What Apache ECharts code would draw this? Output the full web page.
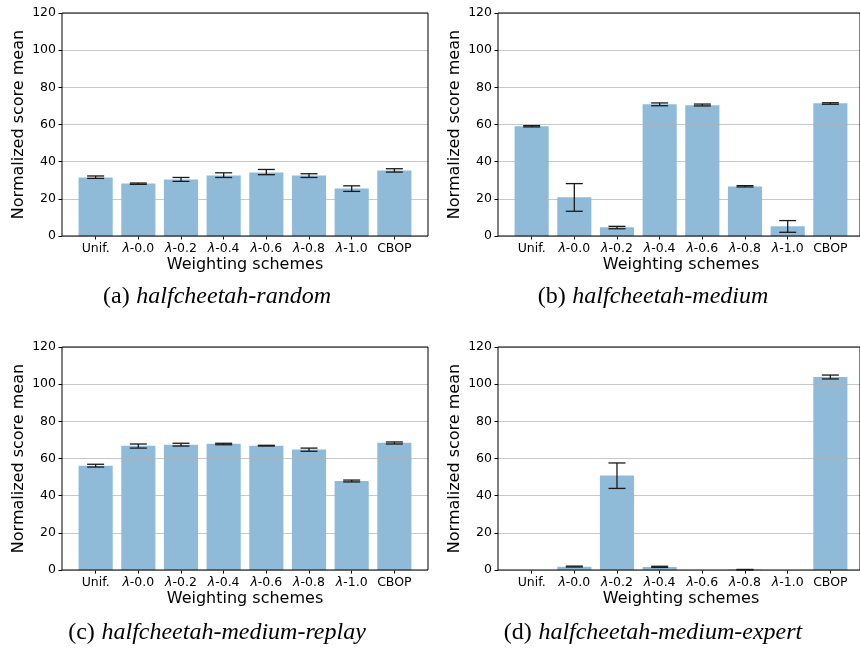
<!DOCTYPE html>
<html>
<head>
<meta charset="utf-8">
<script src="https://cdn.jsdelivr.net/npm/echarts@6/dist/echarts.min.js"></script>
<style>html,body{margin:0;padding:0;background:#fff}#c{width:860px;height:649px}</style>
</head>
<body>
<div id="c"></div>
<script>
const categories = ['Unif.', 'λ-0.0', 'λ-0.2', 'λ-0.4', 'λ-0.6', 'λ-0.8', 'λ-1.0', 'CBOP'];
const yTicks = [0, 20, 40, 60, 80, 100, 120];

const meanRandom = [31.5, 28.2, 30.4, 32.6, 34.2, 32.6, 25.6, 35.3];
const lowRandom  = [31.0, 27.8, 29.4, 31.5, 33.0, 31.5, 24.0, 34.4];
const highRandom = [32.3, 28.5, 31.5, 34.0, 35.8, 33.5, 27.0, 36.2];

const meanMedium = [59.0, 20.8, 4.7, 70.9, 70.3, 26.7, 5.2, 71.4];
const lowMedium  = [58.7, 13.3, 3.9, 70.1, 70.0, 26.4, 2.0, 70.9];
const highMedium = [59.4, 28.2, 5.2, 71.6, 71.0, 27.1, 8.3, 71.7];

const meanReplay = [56.1, 66.9, 67.4, 68.0, 66.9, 64.8, 47.9, 68.5];
const lowReplay  = [55.4, 65.6, 66.7, 67.4, 66.7, 63.9, 47.4, 67.8];
const highReplay = [56.9, 67.8, 68.2, 68.2, 67.1, 65.6, 48.4, 68.9];

const meanExpert = [0, 1.8, 50.8, 1.6, 0, 0.1, 0, 103.9];
const lowExpert  = [0, 1.6, 43.9, 1.4, 0, 0.0, 0, 102.8];
const highExpert = [0, 2.1, 57.6, 2.0, 0, 0.3, 0, 104.9];

const captionTags = ['(a)', '(b)', '(c)', '(d)'];
const captionNames = ['halfcheetah-random', 'halfcheetah-medium', 'halfcheetah-medium-replay', 'halfcheetah-medium-expert'];

const panels = [
  {mean: meanRandom, low: lowRandom, high: highRandom},
  {mean: meanMedium, low: lowMedium, high: highMedium},
  {mean: meanReplay, low: lowReplay, high: highReplay},
  {mean: meanExpert, low: lowExpert, high: highExpert}
];

// layout (pixels)
const lefts = [62, 498, 62, 498];
const tops = [13, 13, 347, 347];
const W = 366, H = 223, INSET = 12.3;
const capX = [217, 653, 217, 653];
const capY = [297, 297, 633, 633];

const FONT = 'DejaVu Sans';
const grid = [], xAxis = [], yAxis = [], series = [], graphic = [];

panels.forEach((p, i) => {
  grid.push({left: lefts[i], top: tops[i], width: W, height: H, show: true,
    borderColor: '#000', borderWidth: 1, backgroundColor: 'transparent', z: 4});
  xAxis.push({gridIndex: i, type: 'value', show: false, min: 0, max: 1});
  yAxis.push({gridIndex: i, type: 'value', min: yTicks[0], max: yTicks[yTicks.length - 1], interval: 20, z: 3,
    name: 'Normalized score mean', nameLocation: 'middle', nameGap: 35,
    nameTextStyle: {fontFamily: FONT, fontSize: 16, color: '#000'},
    axisLine: {show: false},
    axisTick: {show: true, length: 3.5, lineStyle: {color: '#000', width: 1}},
    axisLabel: {fontFamily: FONT, fontSize: 12.5, color: '#000', margin: 6},
    splitLine: {show: true, lineStyle: {color: 'rgba(176,176,176,0.7)', width: 1}}
  });
});

panels.forEach((p, i) => {
  const g = 4 + i;
  grid.push({left: lefts[i] + INSET, top: tops[i], width: W - 2 * INSET, height: H, show: false});
  xAxis.push({gridIndex: g, type: 'category', data: categories, boundaryGap: true,
    name: 'Weighting schemes', nameLocation: 'middle', nameGap: 21,
    nameTextStyle: {fontFamily: FONT, fontSize: 16, color: '#000'},
    axisLine: {show: false},
    axisTick: {show: true, alignWithLabel: true, length: 3.5, lineStyle: {color: '#000', width: 1}},
    axisLabel: {fontFamily: FONT, fontSize: 12.5, color: '#000', margin: 6, interval: 0,
      formatter: v => v.charAt(0) === 'λ' ? '{l|λ}' + v.slice(1) : v,
      rich: {l: {fontFamily: FONT, fontStyle: 'italic', fontSize: 12.5, color: '#000'}}}
  });
  yAxis.push({gridIndex: g, type: 'value', min: 0, max: 120, show: false, splitLine: {show: false}});
  series.push({type: 'bar', xAxisIndex: g, yAxisIndex: g, data: p.mean, barCategoryGap: '20%',
    itemStyle: {color: '#8fbbd9'}, z: 2, silent: true, animation: false});
  series.push({type: 'custom', xAxisIndex: g, yAxisIndex: g, z: 6, animation: false, silent: true,
    data: p.mean.map((m, k) => [k, p.low[k], p.high[k]]),
    encode: {x: 0, y: [1, 2]},
    renderItem: function (params, api) {
      const lo = api.value(1), hi = api.value(2);
      if (lo === hi) return null;
      const x = api.value(0);
      const a = api.coord([x, lo]);
      const b = api.coord([x, hi]);
      const hw = 8.5;
      const st = {stroke: '#1a1a1a', lineWidth: 1.3};
      return {type: 'group', children: [
        {type: 'line', shape: {x1: a[0], y1: a[1], x2: b[0], y2: b[1]}, style: st},
        {type: 'line', shape: {x1: a[0] - hw, y1: a[1], x2: a[0] + hw, y2: a[1]}, style: st},
        {type: 'line', shape: {x1: b[0] - hw, y1: b[1], x2: b[0] + hw, y2: b[1]}, style: st}
      ]};
    }
  });
  graphic.push({type: 'text', x: capX[i], y: capY[i], z: 10,
    style: {text: '{t|' + captionTags[i] + '}  {n|' + captionNames[i] + '}',
      align: 'center', verticalAlign: 'middle',
      rich: {
        t: {fontFamily: 'Liberation Serif', fontSize: 24, fill: '#000', color: '#000'},
        n: {fontFamily: 'Liberation Serif', fontStyle: 'italic', fontSize: 24, fill: '#000', color: '#000'}
      }}});
});

const chart = echarts.init(document.getElementById('c'), null, {renderer: 'canvas'});
chart.setOption({animation: false, grid, xAxis, yAxis, series, graphic});
</script>
</body>
</html>
